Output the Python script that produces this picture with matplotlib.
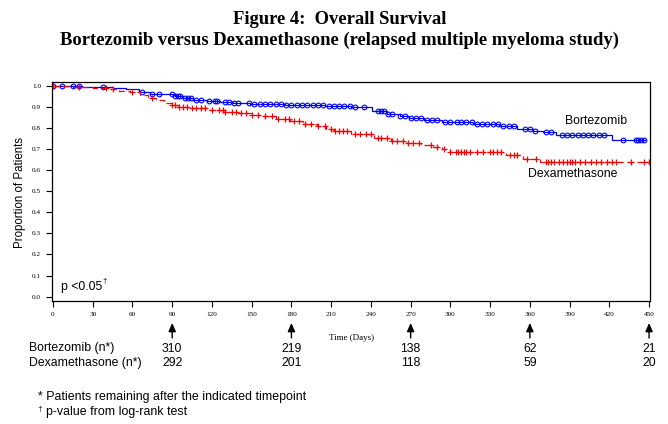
import numpy as np
import matplotlib
matplotlib.use("Agg")
import matplotlib.pyplot as plt

# ---- data ----
bort_t = [0, 22, 45, 55, 65, 73, 92, 98, 106, 116, 126, 136, 149, 175, 205, 225, 241, 252, 262,
          269, 280, 294, 317, 337, 350, 362, 370, 380, 422, 447]
bort_s = [1.0, 0.996, 0.99, 0.982, 0.972, 0.962, 0.952, 0.94, 0.932, 0.926, 0.921, 0.918, 0.912,
          0.909, 0.905, 0.898, 0.88, 0.868, 0.858, 0.845, 0.836, 0.826, 0.818, 0.809, 0.795, 0.785,
          0.779, 0.766, 0.742, 0.742]
dexa_t = [0, 15, 30, 42, 50, 58, 66, 72, 78, 84, 90, 95, 105, 118, 130, 140, 150, 158, 168, 179,
          189, 199, 206, 212, 225, 242, 255, 267, 278, 287, 294, 300, 342, 355, 368, 450]
dexa_s = [1.0, 0.996, 0.99, 0.984, 0.976, 0.968, 0.955, 0.94, 0.93, 0.92, 0.91, 0.9, 0.893, 0.884,
          0.876, 0.87, 0.862, 0.855, 0.843, 0.831, 0.82, 0.807, 0.796, 0.787, 0.772, 0.752, 0.74,
          0.73, 0.72, 0.71, 0.698, 0.687, 0.671, 0.653, 0.64, 0.64]
bort_cens = [0, 7, 15, 20, 38, 67, 75, 80, 90, 92, 94, 96, 100, 102, 104, 108, 112, 118, 122, 124,
             130, 133, 137, 140, 148, 152, 156, 160, 164, 168, 172, 176, 180, 184, 188, 192, 196,
             200, 204, 208, 212, 216, 220, 224, 228, 235, 245, 248, 250, 253, 256, 262, 266, 270,
             274, 278, 282, 286, 290, 296, 300, 305, 308, 312, 316, 320, 324, 328, 332, 336, 340,
             344, 348, 356, 360, 364, 372, 376, 384, 388, 392, 396, 400, 404, 408, 412, 416, 430,
             440, 442, 444, 446]
dexa_cens = [0, 20, 40, 45, 60, 75, 90, 92, 95, 98, 101, 105, 108, 112, 115, 120, 125, 128, 130,
             135, 138, 142, 146, 150, 155, 160, 165, 170, 175, 178, 182, 186, 190, 195, 200, 205,
             210, 213, 216, 219, 222, 228, 232, 236, 240, 245, 248, 252, 256, 260, 264, 268, 272,
             276, 285, 290, 295, 300, 304, 306, 308, 310, 312, 315, 320, 325, 330, 332, 335, 338,
             345, 348, 350, 358, 365, 372, 374, 376, 378, 382, 385, 388, 390, 392, 394, 398, 402,
             406, 410, 414, 418, 422, 425, 436, 446, 450]
risk_times = [90, 180, 270, 360, 450]
bort_risk = [310, 219, 138, 62, 21]
dexa_risk = [292, 201, 118, 59, 20]
xticks = list(range(0, 451, 30))
yticks = [round(0.1 * i, 1) for i in range(11)]

W, H = 668, 424
fig = plt.figure(figsize=(W / 100, H / 100), dpi=100)
ax = fig.add_axes([52 / W, 1 - 301 / H, (650 - 52) / W, (301 - 82) / H])

def surv_at(ts, ss, x):
    idx = np.searchsorted(ts, x, side="right") - 1
    return np.array(ss)[np.clip(idx, 0, len(ss) - 1)]

ax.step(bort_t, bort_s, where="post", color="#0000ff", lw=0.9)
ax.plot(bort_cens, surv_at(bort_t, bort_s, bort_cens), ls="none", marker="o", ms=3.4,
        mfc="none", mec="#0000ff", mew=0.8)
ax.step(dexa_t, dexa_s, where="post", color="#ff0000", lw=0.9, ls=(0, (5, 3)))
ax.plot(dexa_cens, surv_at(dexa_t, dexa_s, dexa_cens), ls="none", marker="+", ms=5,
        mec="#ff0000", mew=0.9)

ax.set_xlim(-0.75, 450.7)
ax.set_ylim(-0.0204, 1.0175)
ax.set_xticks(xticks)
ax.set_yticks(yticks)
ax.set_xticklabels([str(v) for v in xticks], fontsize=5.2, family="Liberation Serif")
ax.set_yticklabels([f"{v:.1f}" for v in yticks], fontsize=5.2, family="Liberation Serif")
ax.tick_params(axis="both", direction="out", length=4, width=0.8, pad=4)
for sp in ax.spines.values():
    sp.set_linewidth(0.9)

fig.text(61 / W, 1 - 287 / H, "p <0.05", fontsize=8.8, family="Liberation Sans", va="center")
fig.text(102 / W, 1 - 282 / H, "\u2020", fontsize=5.5, family="Liberation Sans", va="center")
ax.text(410, 0.834, "Bortezomib", fontsize=8.8, family="Liberation Sans", ha="center", va="center")
ax.text(392, 0.581, "Dexamethasone", fontsize=8.8, family="Liberation Sans", ha="center", va="center")

fig.text(352 / W, 1 - 338 / H, "Time (Days)", fontsize=6.5, family="Liberation Serif",
         ha="center", va="center")
fig.text(20 / W, 1 - 192 / H, "Proportion of Patients", fontsize=8.3, family="Liberation Sans",
         rotation=90, ha="center", va="center")

fig.text(340 / W, 1 - 19 / H, "Figure 4:  Overall Survival", fontsize=13.4, weight="bold",
         family="Liberation Serif", ha="center", va="center")
fig.text(340 / W, 1 - 40 / H, "Bortezomib versus Dexamethasone (relapsed multiple myeloma study)",
         fontsize=13.4, weight="bold", family="Liberation Serif", ha="center", va="center")

for t, nb, nd in zip(risk_times, bort_risk, dexa_risk):
    ax.annotate("", xy=(t, H - 323), xycoords=("data", "figure pixels"),
                xytext=(t, H - 338), textcoords=("data", "figure pixels"),
                arrowprops=dict(arrowstyle="-|>,head_length=0.5,head_width=0.22", color="black",
                                lw=1.0, shrinkA=0, shrinkB=0))
    ax.annotate(str(nb), xy=(t, H - 348.5), xycoords=("data", "figure pixels"), fontsize=8.8,
                family="Liberation Sans", ha="center", va="center", annotation_clip=False)
    ax.annotate(str(nd), xy=(t, H - 363), xycoords=("data", "figure pixels"), fontsize=8.8,
                family="Liberation Sans", ha="center", va="center", annotation_clip=False)

fig.text(28.5 / W, 1 - 348.5 / H, "Bortezomib (n*)", fontsize=8.8, family="Liberation Sans", va="center")
fig.text(28.5 / W, 1 - 363 / H, "Dexamethasone (n*)", fontsize=8.8, family="Liberation Sans", va="center")
fig.text(37.5 / W, 1 - 397 / H, "* Patients remaining after the indicated timepoint", fontsize=8.9,
         family="Liberation Sans", va="center")
fig.text(37.5 / W, 1 - 409 / H, "\u2020", fontsize=6, family="Liberation Sans", va="center")
fig.text(46.5 / W, 1 - 411.5 / H, "p-value from log-rank test", fontsize=8.9,
         family="Liberation Sans", va="center")

fig.savefig("out.png", dpi=100)
